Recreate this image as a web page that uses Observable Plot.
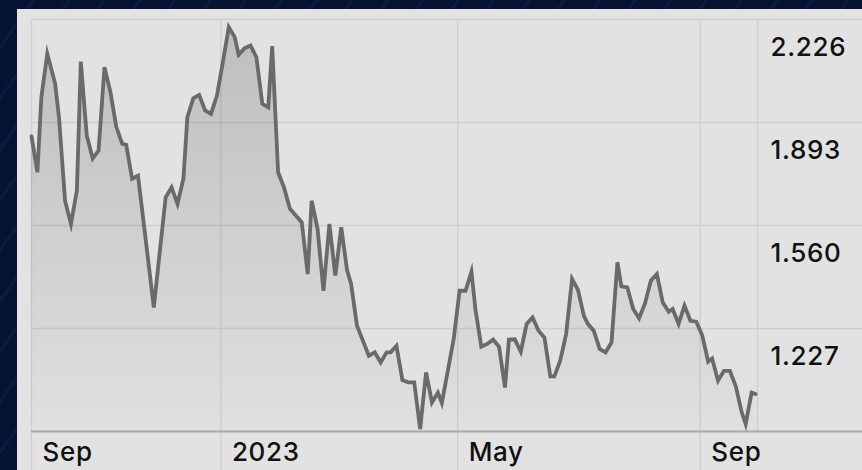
<!DOCTYPE html>
<html>
<head>
<meta charset="utf-8">
<script src="https://cdn.jsdelivr.net/npm/d3@7"></script>
<script src="https://cdn.jsdelivr.net/npm/@observablehq/plot@0.6"></script>
<style>
  html, body { margin: 0; padding: 0; }
  body {
    width: 862px; height: 470px; overflow: hidden; position: relative;
    background: repeating-linear-gradient(125deg, #061332 0px, #061332 26px, #0b1c43 26px, #0b1c43 29px);
  }
  #panel {
    position: absolute; left: 17px; top: 9px; width: 845px; height: 461px;
    background: #e2e2e2;
  }
  #panel svg { display: block; }
  #panel svg text { letter-spacing: 0.7px; }
</style>
</head>
<body>
<div id="panel"></div>
<script>
// ---- data ----
const dates = [
  "2022-09-27","2022-09-30","2022-10-02","2022-10-05","2022-10-09","2022-10-11","2022-10-14","2022-10-17",
  "2022-10-20","2022-10-22","2022-10-25","2022-10-28","2022-10-31","2022-11-03","2022-11-06","2022-11-09",
  "2022-11-12","2022-11-14","2022-11-17","2022-11-20","2022-11-28","2022-12-04","2022-12-07","2022-12-10",
  "2022-12-13","2022-12-15","2022-12-18","2022-12-21","2022-12-24","2022-12-27","2022-12-30","2023-01-02",
  "2023-01-05","2023-01-08","2023-01-10","2023-01-13","2023-01-16","2023-01-19","2023-01-22","2023-01-25",
  "2023-01-27","2023-01-30","2023-02-02","2023-02-05","2023-02-08","2023-02-11","2023-02-14","2023-02-16",
  "2023-02-19","2023-02-22","2023-02-25","2023-02-28","2023-03-03","2023-03-06","2023-03-08","2023-03-11",
  "2023-03-14","2023-03-17","2023-03-20","2023-03-23","2023-03-26","2023-03-28","2023-03-31","2023-04-03",
  "2023-04-06","2023-04-09","2023-04-12","2023-04-15","2023-04-18","2023-04-21","2023-04-23","2023-04-29",
  "2023-05-02","2023-05-05","2023-05-08","2023-05-10","2023-05-13","2023-05-16","2023-05-19","2023-05-22",
  "2023-05-25","2023-05-27","2023-05-30","2023-06-02","2023-06-05","2023-06-08","2023-06-11","2023-06-14",
  "2023-06-17","2023-06-19","2023-06-22","2023-06-25","2023-06-28","2023-07-01","2023-07-04","2023-07-06",
  "2023-07-09","2023-07-12","2023-07-15","2023-07-18","2023-07-21","2023-07-23","2023-07-26","2023-07-29",
  "2023-08-01","2023-08-04","2023-08-07","2023-08-10","2023-08-13","2023-08-16","2023-08-18","2023-08-21",
  "2023-08-24","2023-08-27","2023-08-30","2023-09-02","2023-09-05","2023-09-07","2023-09-10","2023-09-13",
  "2023-09-16","2023-09-19","2023-09-22","2023-09-24","2023-09-27","2023-09-29"
];
const values = [
  1.848,1.732,1.975,2.115,2.018,1.905,1.640,1.565,
  1.673,2.090,1.851,1.777,1.802,2.072,1.991,1.878,
  1.824,1.821,1.711,1.721,1.295,1.651,1.683,1.630,
  1.711,1.910,1.971,1.982,1.932,1.921,1.980,2.088,
  2.201,2.169,2.112,2.133,2.142,2.104,1.953,1.942,
  2.140,1.732,1.683,1.614,1.592,1.570,1.403,1.640,
  1.549,1.349,1.565,1.398,1.554,1.414,1.371,1.236,
  1.187,1.139,1.150,1.117,1.150,1.150,1.171,1.060,
  1.053,1.053,0.902,1.085,0.988,1.020,0.986,1.193,
  1.349,1.349,1.411,1.290,1.168,1.177,1.191,1.168,
  1.036,1.191,1.192,1.152,1.242,1.263,1.220,1.198,
  1.072,1.072,1.123,1.209,1.387,1.352,1.268,1.242,
  1.220,1.161,1.150,1.182,1.441,1.363,1.360,1.290,
  1.260,1.309,1.382,1.403,1.311,1.281,1.290,1.242,
  1.301,1.252,1.249,1.204,1.120,1.130,1.058,1.090,
  1.090,1.040,0.956,0.918,1.020,1.015
];
const yDomain = [0.894, 2.226];
const yTicks = [1.227, 1.560, 1.893, 2.226];
const xDomain = ["2022-09-27", "2023-09-30"];
const xTicks = ["2022-09-27", "2023-01-01", "2023-05-01", "2023-09-01"];
const xTickLabels = ["Sep", "2023", "May", "Sep"];

// ---- build ----
const data = dates.map((d, i) => ({date: new Date(d), value: values[i]}));
const xTickDates = xTicks.map(d => new Date(d));
const xDom = xDomain.map(d => new Date(d));
const fmt = d3.format(".3f");

const gradientDefs = () => {
  const defs = d3.create("svg:defs");
  const g = defs.append("linearGradient")
    .attr("id", "fadeGrad").attr("x1", 0).attr("y1", 0).attr("x2", 0).attr("y2", 1);
  g.append("stop").attr("offset", "0%").attr("stop-color", "#000").attr("stop-opacity", 0.16);
  g.append("stop").attr("offset", "100%").attr("stop-color", "#000").attr("stop-opacity", 0.01);
  return defs.node();
};

const chart = Plot.plot({
  width: 845,
  height: 461,
  marginLeft: 14,
  marginRight: 105,
  marginTop: 10,
  marginBottom: 39,
  style: {background: "transparent", fontFamily: "Inter, 'Noto Sans', sans-serif", color: "#111"},
  x: {type: "utc", domain: xDom, axis: null},
  y: {domain: yDomain, axis: null},
  marks: [
    gradientDefs,
    Plot.ruleY(yTicks, {stroke: "#cecece", strokeWidth: 1.6, insetRight: -105}),
    Plot.ruleX(xTickDates, {stroke: "#cfcfcf", strokeWidth: 1.4, insetBottom: -39}),
    Plot.ruleX([xDom[1]], {stroke: "#cfcfcf", strokeWidth: 1.4}),
    Plot.areaY(data, {x: "date", y1: yDomain[0], y2: "value", fill: "url(#fadeGrad)", curve: "linear"}),
    Plot.ruleY([yDomain[0]], {stroke: "#a8a8a8", strokeWidth: 2, insetRight: -105}),
    Plot.line(data, {x: "date", y: "value", stroke: "#6a6a6a", strokeWidth: 3.8,
      strokeLinejoin: "miter", strokeMiterlimit: 6, curve: "linear"}),
    Plot.text(yTicks, {y: d => d, frameAnchor: "right", textAnchor: "start", dx: 13, dy: 28.5,
      text: d => fmt(d), fontSize: 26, fontWeight: 500, fill: "#111"}),
    Plot.text(xTickDates, {x: d => d, frameAnchor: "bottom", textAnchor: "start", dx: 11, dy: 21,
      lineAnchor: "middle", text: (d, i) => xTickLabels[i], fontSize: 26, fontWeight: 500, fill: "#111"})
  ]
});
document.getElementById("panel").appendChild(chart);
</script>
</body>
</html>
